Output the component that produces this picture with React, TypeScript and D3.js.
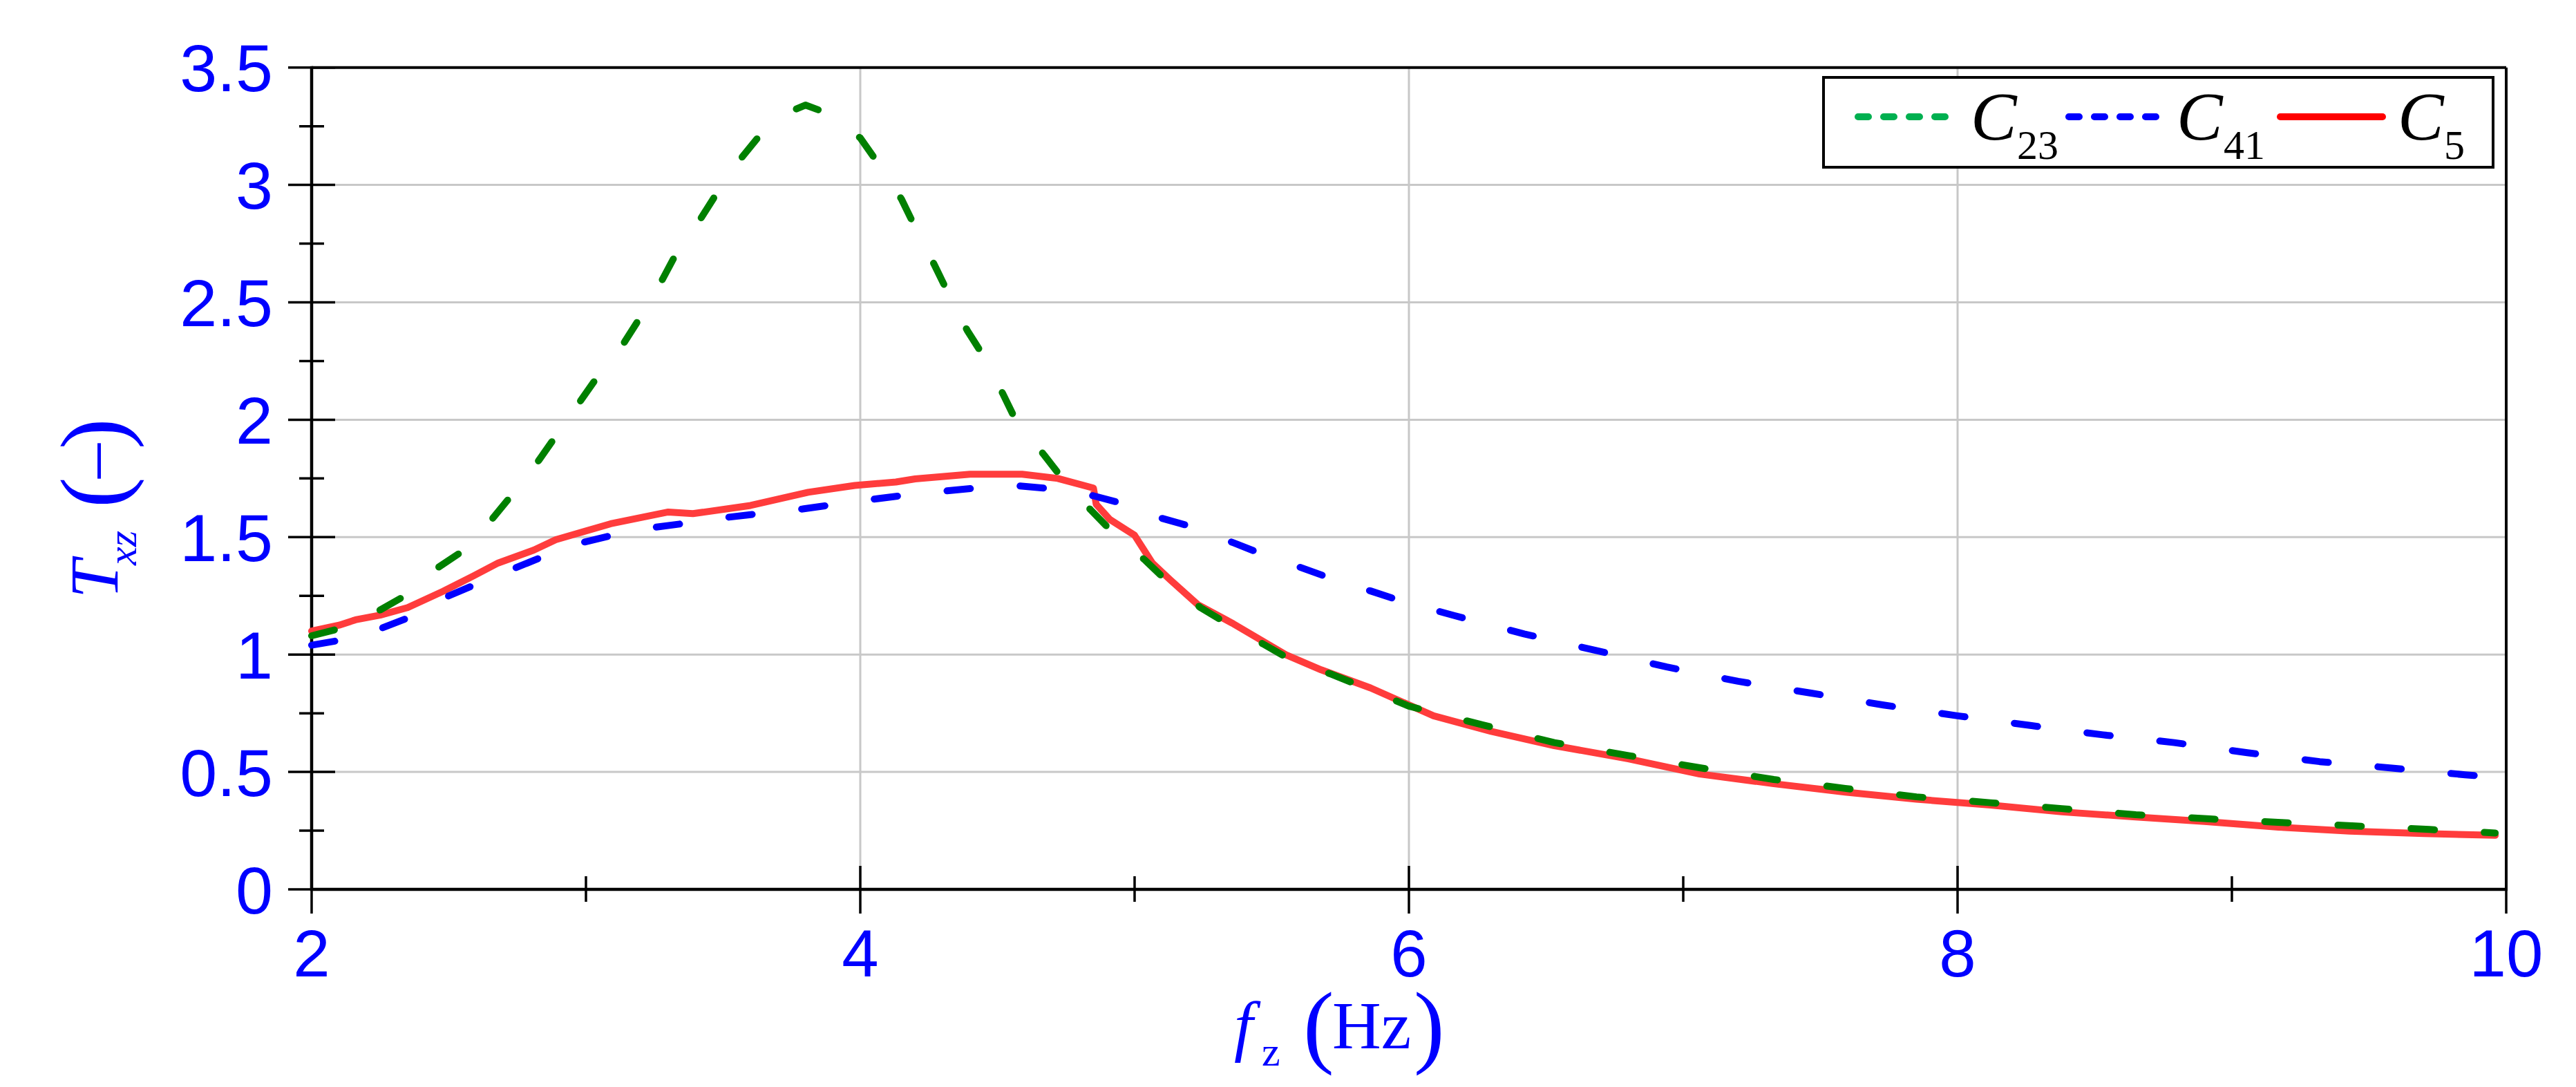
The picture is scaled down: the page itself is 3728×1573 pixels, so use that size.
import React from 'react';
import * as d3 from 'd3';

const W = 3728;
const H = 1573;

// ---- data ----
const fC23 = [2.0, 2.1, 2.25, 2.34, 2.46, 2.55, 2.66, 2.73, 2.83, 2.89, 2.98, 3.04, 3.14, 3.2, 3.28, 3.33, 3.42, 3.48, 3.57, 3.64, 3.7, 3.76, 3.8, 3.87, 4.0, 4.06, 4.15, 4.2, 4.27, 4.32, 4.39, 4.45, 4.52, 4.57, 4.67, 4.74, 4.84, 4.92, 5.04, 5.12, 5.24, 5.34, 5.47, 5.57, 5.72, 5.82, 6.0, 6.27, 6.53, 6.8, 7.06, 7.33, 7.59, 7.85, 8.12, 8.38, 8.65, 8.92, 9.18, 9.45, 9.72, 9.96];
const tC23 = [1.08, 1.11, 1.19, 1.25, 1.37, 1.44, 1.58, 1.68, 1.83, 1.93, 2.08, 2.18, 2.33, 2.44, 2.6, 2.71, 2.86, 2.97, 3.12, 3.22, 3.27, 3.32, 3.34, 3.31, 3.2, 3.1, 2.94, 2.82, 2.66, 2.54, 2.38, 2.27, 2.11, 1.99, 1.85, 1.745, 1.616, 1.52, 1.4, 1.31, 1.2, 1.13, 1.044, 0.977, 0.915, 0.868, 0.78, 0.7, 0.625, 0.57, 0.518, 0.468, 0.43, 0.394, 0.369, 0.344, 0.318, 0.3, 0.285, 0.27, 0.255, 0.24];

const fC41 = [2.0, 2.1, 2.25, 2.36, 2.5, 2.6, 2.745, 2.85, 2.99, 3.1, 3.25, 3.37, 3.52, 3.63, 3.79, 3.9, 4.05, 4.16, 4.315, 4.42, 4.58, 4.69, 4.85, 4.96, 5.1, 5.21, 5.36, 5.46, 5.6, 5.71, 5.86, 5.97, 6.165, 6.42, 6.68, 6.94, 7.2, 7.47, 7.73, 8.0, 8.265, 8.53, 8.79, 9.056, 9.32, 9.59, 9.85, 9.96];
const tC41 = [1.04, 1.06, 1.11, 1.16, 1.25, 1.3, 1.37, 1.42, 1.478, 1.509, 1.542, 1.56, 1.585, 1.6, 1.62, 1.638, 1.662, 1.678, 1.697, 1.709, 1.718, 1.707, 1.676, 1.642, 1.58, 1.544, 1.476, 1.43, 1.373, 1.327, 1.271, 1.229, 1.166, 1.088, 1.018, 0.947, 0.886, 0.835, 0.785, 0.739, 0.698, 0.658, 0.625, 0.582, 0.544, 0.516, 0.488, 0.478];

const fC5 = [2.0, 2.1, 2.16, 2.25, 2.35, 2.48, 2.59, 2.68, 2.81, 2.89, 3.09, 3.3, 3.39, 3.6, 3.81, 3.98, 4.13, 4.2, 4.4, 4.59, 4.72, 4.85, 4.86, 4.91, 5.0, 5.065, 5.13, 5.23, 5.36, 5.555, 5.68, 5.86, 6.09, 6.3, 6.53, 6.8, 7.06, 7.33, 7.59, 7.85, 8.12, 8.38, 8.64, 8.9, 9.17, 9.43, 9.7, 9.96];
const tC5 = [1.1, 1.125, 1.148, 1.168, 1.2, 1.27, 1.335, 1.39, 1.445, 1.489, 1.557, 1.607, 1.6, 1.635, 1.691, 1.72, 1.735, 1.748, 1.768, 1.768, 1.75, 1.709, 1.64, 1.575, 1.508, 1.389, 1.318, 1.213, 1.131, 0.997, 0.935, 0.858, 0.739, 0.673, 0.612, 0.556, 0.491, 0.45, 0.414, 0.384, 0.359, 0.33, 0.309, 0.289, 0.265, 0.248, 0.238, 0.23];

const xTickValues = [2, 4, 6, 8, 10];
const xTickLabels = ['2', '4', '6', '8', '10'];
const xMinorValues = [3, 5, 7, 9];
const yTickValues = [0, 0.5, 1, 1.5, 2, 2.5, 3, 3.5];
const yTickLabels = ['0', '0.5', '1', '1.5', '2', '2.5', '3', '3.5'];
const yMinorValues = [0.25, 0.75, 1.25, 1.75, 2.25, 2.75, 3.25];

const legendBase = ['C', 'C', 'C'];
const legendSub = ['23', '41', '5'];

const SANS = '"Liberation Sans", Arial, sans-serif';
const SERIF = '"Liberation Serif", "Times New Roman", serif';
const BLUE_TXT = '#0000ff';

export default function App() {
  const x = d3.scaleLinear().domain([2, 10]).range([451, 3627]);
  const y = d3.scaleLinear().domain([0, 3.5]).range([1287, 97.7]);
  const line = d3
    .line<[number, number]>()
    .x((d) => x(d[0]))
    .y((d) => y(d[1]));

  const zip = (a: number[], b: number[]) => a.map((v, i) => [v, b[i]] as [number, number]);
  const pC23 = line(zip(fC23, tC23)) || '';
  const pC41 = line(zip(fC41, tC41)) || '';
  const pC5 = line(zip(fC5, tC5)) || '';

  const x0 = x(2), x1 = x(10), y0 = y(0), y1 = y(3.5);

  // legend geometry
  const lgX = 2639, lgY = 112, lgW = 969, lgH = 130, lgMid = 169;
  const sampleX = [2689, 2994, 3300];
  const sampleX2 = [2816, 3120, 3448];
  const sampleColor = ['#00b050', '#0000ff', '#ff0000'];
  const sampleDash = ['15 22', '15 22', undefined];
  const labelX = [2852, 3150, 3470];
  const subX = [2919, 3218, 3537];

  return (
    <svg
      width={W}
      height={H}
      viewBox={`0 0 ${W} ${H}`}
      style={{ position: 'absolute', left: 0, top: 0, display: 'block', background: '#ffffff' }}
    >
      <rect x={0} y={0} width={W} height={H} fill="#ffffff" />

      {/* grid */}
      {yTickValues.filter((v) => v > 0 && v < 3.5).map((v) => (
        <line key={'gy' + v} x1={x0} x2={x1} y1={y(v)} y2={y(v)} stroke="#c8c8c8" strokeWidth={3} />
      ))}
      {xTickValues.filter((v) => v > 2 && v < 10).map((v) => (
        <line key={'gx' + v} x1={x(v)} x2={x(v)} y1={y0} y2={y1} stroke="#c8c8c8" strokeWidth={3} />
      ))}

      {/* frame */}
      <line x1={x0} x2={x1} y1={y1} y2={y1} stroke="#000" strokeWidth={4} />
      <line x1={x1} x2={x1} y1={y1} y2={y0} stroke="#000" strokeWidth={4} />
      <line x1={x0} x2={x0} y1={y1 - 2} y2={y0 + 2} stroke="#000" strokeWidth={4.5} />
      <line x1={x0 - 2} x2={x1 + 2} y1={y0} y2={y0} stroke="#000" strokeWidth={4.5} />

      {/* y ticks */}
      {yTickValues.map((v) => (
        <line key={'ty' + v} x1={x0 - 34} x2={x0 + 34} y1={y(v)} y2={y(v)} stroke="#000" strokeWidth={3.5} />
      ))}
      {yMinorValues.map((v) => (
        <line key={'tym' + v} x1={x0 - 18} x2={x0 + 18} y1={y(v)} y2={y(v)} stroke="#000" strokeWidth={3.5} />
      ))}
      {/* x ticks */}
      {xTickValues.map((v) => (
        <line key={'tx' + v} x1={x(v)} x2={x(v)} y1={y0 - 34} y2={y0 + 35} stroke="#000" strokeWidth={3.5} />
      ))}
      {xMinorValues.map((v) => (
        <line key={'txm' + v} x1={x(v)} x2={x(v)} y1={y0 - 19} y2={y0 + 18} stroke="#000" strokeWidth={3.5} />
      ))}

      {/* tick labels */}
      {yTickValues.map((v, i) => (
        <text key={'ly' + v} x={395} y={y(v) + 34.5} textAnchor="end" fontFamily={SANS} fontSize={97} fill={BLUE_TXT}>
          {yTickLabels[i]}
        </text>
      ))}
      {xTickValues.map((v, i) => (
        <text key={'lx' + v} x={x(v)} y={1413} textAnchor="middle" fontFamily={SANS} fontSize={96} fill={BLUE_TXT}>
          {xTickLabels[i]}
        </text>
      ))}

      {/* data lines */}
      <path d={pC5} fill="none" stroke="#ff3c3c" strokeWidth={10} strokeLinecap="round" strokeLinejoin="round" />
      <path d={pC41} fill="none" stroke="#0000ff" strokeWidth={10} strokeLinecap="round" strokeLinejoin="round" strokeDasharray="34 72" />
      <path d={pC23} fill="none" stroke="#008000" strokeWidth={10} strokeLinecap="round" strokeLinejoin="round" strokeDasharray="34 72" />

      {/* x axis title */}
      <g fill={BLUE_TXT} fontFamily={SERIF}>
        <text x={1786} y={1517} fontSize={98} fontStyle="italic">f</text>
        <text x={1826} y={1542} fontSize={60}>z</text>
        <text x={1886} y={1528} fontSize={134}>(</text>
        <text x={1928} y={1517} fontSize={98}>Hz</text>
        <text x={2046} y={1528} fontSize={134}>)</text>
      </g>

      {/* y axis title (rotated) */}
      <g fill={BLUE_TXT} fontFamily={SERIF} transform="rotate(-90)">
        <text x={-866} y={170} fontSize={100} fontStyle="italic">T</text>
        <text x={-818} y={197} fontSize={60} fontStyle="italic">xz</text>
        <text x={-735} y={180} fontSize={134}>(</text>
        <text x={-692} y={167} fontSize={100}>–</text>
        <text x={-650} y={180} fontSize={134}>)</text>
      </g>

      {/* legend */}
      <rect x={lgX} y={lgY} width={lgW} height={lgH} fill="#ffffff" stroke="#000" strokeWidth={4} />
      {legendBase.map((b, i) => (
        <g key={'lg' + i}>
          <line
            x1={sampleX[i]}
            x2={sampleX2[i]}
            y1={lgMid}
            y2={lgMid}
            stroke={sampleColor[i]}
            strokeWidth={10}
            strokeLinecap="round"
            strokeDasharray={sampleDash[i]}
          />
          <text x={labelX[i]} y={202} fontFamily={SERIF} fontSize={100} fontStyle="italic" fill="#000">
            {b}
          </text>
          <text x={subX[i]} y={230} fontFamily={SERIF} fontSize={60} fill="#000">
            {legendSub[i]}
          </text>
        </g>
      ))}
    </svg>
  );
}
